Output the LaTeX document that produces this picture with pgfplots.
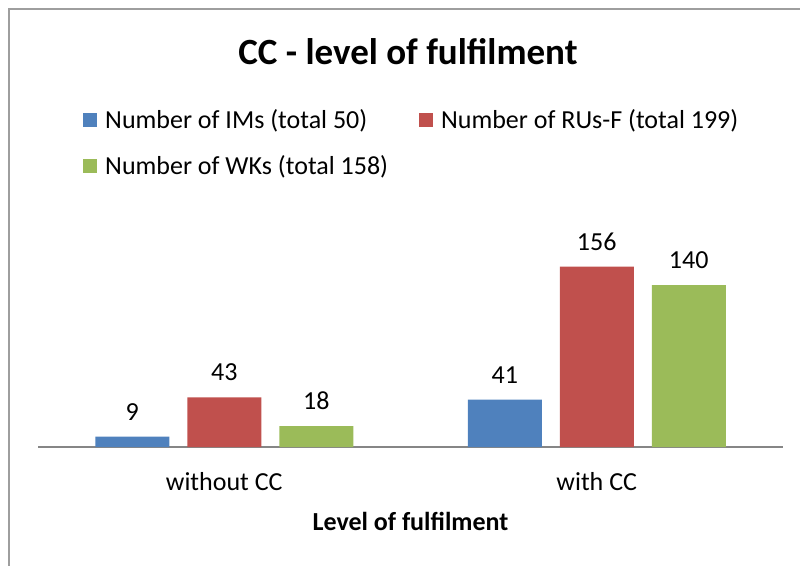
\documentclass[border=0pt]{standalone}
\usepackage{pgfplots}
\pgfplotsset{compat=1.18}
\usepackage{fontspec}
\setmainfont{Carlito}
\definecolor{cblue}{HTML}{4F81BD}
\definecolor{cred}{HTML}{C0504D}
\definecolor{cgreen}{HTML}{9BBB59}
\definecolor{cframe}{HTML}{868686}
\begin{document}
\begin{tikzpicture}
\begin{axis}[
  anchor=south west, at={(-2pt,0pt)},
  scale only axis, width=745pt, height=208pt,
  ymin=0, ymax=180, xmin=-0.5, xmax=1.5,
  axis x line=bottom, axis y line=none,
  x axis line style={-, draw=cframe, line width=1.5pt},
  xtick={0,1}, xticklabels={without CC, with CC},
  major tick length=0pt,
  ytick=\empty,
  /pgf/number format/assume math mode=true,
  ticklabel style={font=\fontsize{26}{31}\selectfont},
  xticklabel style={yshift=-22pt},
  xlabel={\bfseries Level of fulfilment},
  xlabel style={font=\fontsize{26}{31}\selectfont, yshift=-15pt},
  ybar=18pt, bar width=74pt,
  nodes near coords,
  every node near coord/.append style={font=\fontsize{26}{31}\selectfont, yshift=13pt},
  legend columns=2,
  legend cell align=left,
  legend style={at={(0.0564,1.644)}, anchor=north west, draw=none, fill=none,
    font=\fontsize{26}{31}\selectfont, row sep=22pt,
    /tikz/every odd column/.append style={column sep=6pt},
    /tikz/every even column/.append style={column sep=29pt}},
  legend image code/.code={\fill[#1] (0pt,-7pt) rectangle (14pt,7pt);},
]
\addplot[fill=cblue, draw=none] coordinates {(0,9) (1,41)};
\addplot[fill=cred, draw=none] coordinates {(0,43) (1,156)};
\addplot[fill=cgreen, draw=none] coordinates {(0,18) (1,140)};
\legend{Number of IMs (total 50), Number of RUs-F (total 199), Number of WKs (total 158)}
\end{axis}
\draw[cframe!80, line width=2pt] (-31pt,-123pt) -- (-31pt,438pt) -- (765pt,438pt);
\node[font=\fontsize{37}{44}\selectfont\bfseries] at (368pt,395pt) {CC - level of fulfilment};
\pgfresetboundingbox
\useasboundingbox (-40pt,-118pt) rectangle (760pt,447pt);
\end{tikzpicture}
\end{document}
